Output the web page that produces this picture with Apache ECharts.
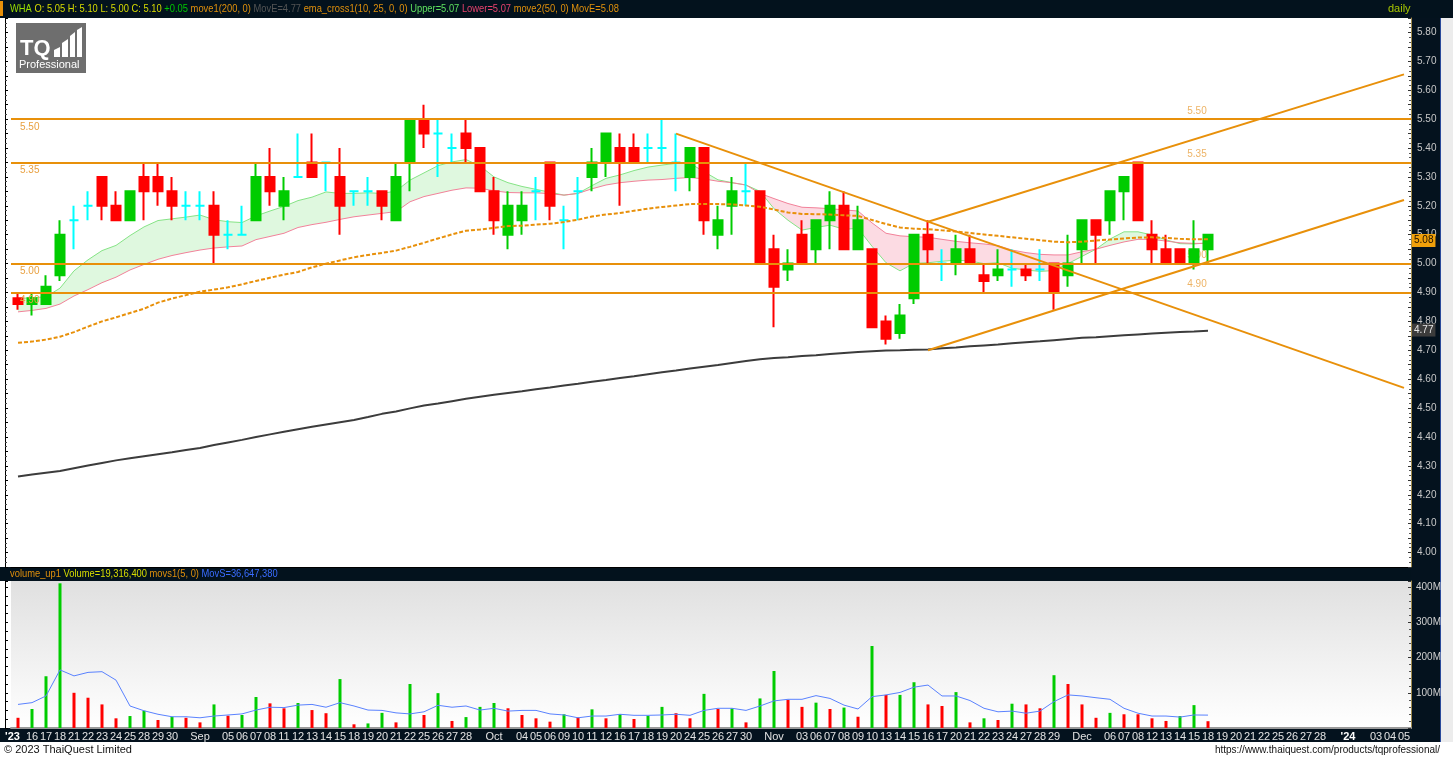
<!DOCTYPE html>
<html>
<head>
<meta charset="utf-8">
<title>WHA daily</title>
<script src="https://cdn.jsdelivr.net/npm/echarts@6/dist/echarts.min.js"></script>
<style>
  html, body { margin: 0; padding: 0; background: #fff; }
  #chart { width: 1453px; height: 758px; }
</style>
</head>
<body>
<div id="chart"></div>
<script>
// trading days (Aug 15 2023 .. Dec 18 2023) + blank future slots, as shown on the axis
const xLabels = ["'23","16","17","18","21","22","23","24","25","28","29","30","","Sep","","05","06","07","08","11","12","13","14","15","18","19","20","21","22","25","26","27","28","","Oct","","04","05","06","09","10","11","12","16","17","18","19","20","24","25","26","27","30","","Nov","","03","06","07","08","09","10","13","14","15","16","17","20","21","22","23","24","27","28","29","","Dec","","06","07","08","12","13","14","15","18","19","20","21","22","25","26","27","28","","'24","","03","04","05"]

const openP = [4.88,4.86,4.86,4.96,5.15,5.20,5.30,5.20,5.15,5.30, 5.30,5.25,5.20,5.20,5.20,5.10,5.10,5.15,5.30,5.20, 5.30,5.35,5.35,5.30,5.25,5.25,5.25,5.15,5.35,5.50, 5.45,5.40,5.45,5.40,5.25,5.10,5.15,5.25,5.35,5.15, 5.25,5.30,5.35,5.40,5.40,5.40,5.40,5.35,5.30,5.40, 5.10,5.20,5.25,5.25,5.05,4.98,5.10,5.05,5.15,5.20, 5.05,5.05,4.80,4.76,4.88,5.10,5.00,5.00,5.05,4.96, 4.96,4.98,4.98,4.98,5.00,4.96,5.05,5.15,5.15,5.25, 5.35,5.10,5.05,5.05,5.00,5.05]
const highP = [4.90,4.90,4.96,5.15,5.20,5.25,5.30,5.25,5.25,5.35, 5.35,5.30,5.25,5.25,5.25,5.15,5.20,5.35,5.40,5.30, 5.45,5.45,5.35,5.40,5.25,5.30,5.25,5.35,5.50,5.55, 5.50,5.45,5.50,5.40,5.30,5.25,5.25,5.30,5.35,5.20, 5.30,5.40,5.45,5.45,5.45,5.45,5.50,5.45,5.40,5.40, 5.20,5.30,5.35,5.25,5.10,5.05,5.15,5.15,5.25,5.25, 5.20,5.05,4.82,4.86,5.10,5.15,5.05,5.10,5.10,5.00, 5.05,5.05,5.00,5.05,5.00,5.10,5.15,5.15,5.25,5.30, 5.35,5.15,5.10,5.05,5.15,5.10]
const lowP = [4.84,4.82,4.86,4.94,5.05,5.15,5.15,5.15,5.15,5.15, 5.20,5.15,5.15,5.15,5.00,5.05,5.10,5.15,5.20,5.15, 5.30,5.30,5.25,5.10,5.20,5.20,5.15,5.15,5.25,5.40, 5.30,5.35,5.35,5.25,5.10,5.05,5.10,5.15,5.15,5.05, 5.15,5.25,5.30,5.20,5.35,5.35,5.35,5.25,5.25,5.10, 5.05,5.10,5.20,5.00,4.78,4.94,5.00,5.00,5.05,5.05, 5.05,4.78,4.72,4.74,4.86,5.00,4.94,4.96,5.00,4.90, 4.94,4.92,4.94,4.94,4.84,4.92,5.00,5.00,5.10,5.15, 5.15,5.00,5.00,5.00,4.98,5.00]
const closeP = [4.86,4.88,4.92,5.10,5.15,5.20,5.20,5.15,5.25,5.25, 5.25,5.20,5.20,5.20,5.10,5.10,5.10,5.30,5.25,5.25, 5.30,5.30,5.35,5.20,5.25,5.25,5.20,5.30,5.50,5.45, 5.45,5.40,5.40,5.25,5.15,5.20,5.20,5.25,5.20,5.15, 5.25,5.35,5.45,5.35,5.35,5.40,5.40,5.35,5.40,5.15, 5.15,5.25,5.25,5.00,4.92,5.00,5.00,5.15,5.20,5.05, 5.15,4.78,4.74,4.82,5.10,5.05,5.00,5.05,5.00,4.94, 4.98,4.98,4.96,4.98,4.90,5.00,5.15,5.10,5.25,5.30, 5.15,5.05,5.00,5.00,5.05,5.10]

// ema_cross1(10, 25): upper / lower averages
const ema10 = [4.879,4.882,4.885,4.915,4.975,5.013,5.045,5.063,5.097,5.127, 5.149,5.155,5.161,5.168,5.152,5.145,5.142,5.165,5.182,5.198, 5.218,5.230,5.248,5.243,5.243,5.245,5.243,5.251,5.289,5.314, 5.339,5.352,5.360,5.338,5.300,5.280,5.267,5.257,5.247,5.237, 5.243,5.270,5.295,5.307,5.322,5.334,5.341,5.347,5.347,5.318, 5.290,5.280,5.272,5.250,5.190,5.150,5.116,5.125,5.133,5.119, 5.122,5.060,5.003,4.975,5.001,5.003,5.008,5.012,5.009,5.000, 5.003,4.984,4.978,4.973,4.976,5.000,5.025,5.050,5.085,5.110, 5.110,5.099,5.082,5.069,5.068,5.072]
const ema25 = [4.833,4.838,4.845,4.860,4.888,4.910,4.934,4.953,4.978,4.997, 5.015,5.028,5.038,5.047,5.054,5.058,5.061,5.083,5.094,5.105, 5.125,5.135,5.143,5.153,5.162,5.168,5.174,5.180,5.214,5.232, 5.243,5.254,5.262,5.261,5.252,5.246,5.245,5.245,5.242,5.237, 5.243,5.259,5.272,5.280,5.285,5.289,5.291,5.295,5.298,5.293, 5.285,5.280,5.272,5.243,5.225,5.208,5.195,5.193,5.190,5.186, 5.182,5.141,5.105,5.096,5.093,5.091,5.084,5.077,5.072,5.068, 5.062,5.047,5.038,5.032,5.030,5.030,5.041,5.050,5.063,5.075, 5.084,5.084,5.078,5.072,5.070,5.070]
// move2(50) dashed, move1(200) dark
const ma50 = [4.726,4.730,4.737,4.747,4.763,4.782,4.800,4.814,4.829,4.844, 4.865,4.879,4.891,4.903,4.910,4.918,4.928,4.940,4.951,4.962, 4.971,4.987,5.000,5.011,5.022,5.030,5.037,5.045,5.058,5.072, 5.087,5.101,5.114,5.118,5.124,5.130,5.131,5.135,5.138,5.144, 5.152,5.163,5.170,5.175,5.183,5.190,5.196,5.201,5.206,5.206, 5.206,5.205,5.201,5.197,5.187,5.177,5.172,5.171,5.170,5.167, 5.165,5.151,5.137,5.125,5.121,5.119,5.115,5.111,5.106,5.101, 5.096,5.091,5.086,5.081,5.076,5.074,5.076,5.080,5.083,5.087, 5.090,5.091,5.089,5.086,5.084,5.084]
const ma200 = [4.263,4.270,4.276,4.282,4.292,4.301,4.310,4.319,4.326,4.333, 4.340,4.347,4.355,4.362,4.372,4.381,4.390,4.400,4.409,4.418, 4.427,4.435,4.443,4.451,4.459,4.469,4.480,4.488,4.499,4.509, 4.516,4.524,4.532,4.539,4.546,4.552,4.558,4.565,4.571,4.578, 4.584,4.591,4.597,4.604,4.610,4.617,4.624,4.630,4.637,4.643, 4.649,4.656,4.663,4.669,4.673,4.676,4.680,4.683,4.687,4.691, 4.694,4.697,4.699,4.700,4.702,4.703,4.707,4.710,4.714,4.717, 4.720,4.724,4.728,4.731,4.735,4.739,4.743,4.745,4.749,4.752, 4.755,4.758,4.761,4.763,4.765,4.768]

// volume in millions, 1 = green bar, 0 = red bar; movs1(5) line
const volume = [29,54,147,411,100,86,67,27.5,34,49, 22.7,32,29,16,67,35,37,88,70,56, 71,51,42,139,10.5,13,43,16,125,37, 99,20,31,60,71,56,37,27.5,18,39, 30,53,27.5,39,25.6,35,60,42,27.5,97, 54,56,16,84,162,80,60,72,54,58, 32,233,94,94,130,67,62.5,102,16,27.5, 22.7,69,67,56,150,125,67,29,43,39, 39,27.5,20,34,65,19.3]
const volUp = [0,1,1,1,0,0,0,0,1,1, 0,1,0,0,1,0,1,1,0,0, 1,0,0,1,0,1,1,0,1,0, 1,0,1,1,1,0,0,0,0,1, 0,1,0,1,0,1,1,0,0,1, 0,1,0,1,1,0,0,1,0,1, 0,1,0,1,1,0,0,1,0,1, 0,1,0,0,1,0,0,0,1,0, 0,0,0,1,1,0]
const movs = [67,72,91,165,148,158,160,136,62.5,49, 39,32,32,29,34,37,40,51,59,58, 65,67,59,72,62.5,51,50,43,40,46, 64.5,59,62.5,51,56,48,50,50,40,37, 29,34,34,39,36,36,37,39,36,50, 56,56,50,62.5,77,81.5,81.5,92,84,65, 54,89,94,101,116,122,91,91,78,56, 46,48,42,48,75,94,91,86,81.5,56, 42,34,34,31,37,36.6]

// drawn support / resistance levels and trend lines ([bar index, price])
const levels = [5.50, 5.35, 5.00, 4.90]
const trendDown = [[47, 5.45], [99, 4.57]]
const trendUpHigh = [[65, 5.145], [99, 5.655]]
const trendUpLow = [[65, 4.70], [99, 5.22]]

const priceTicks = { min: 3.95, max: 5.85, step: 0.05 }
const volTicks = { min: 0, max: 417.6, step: 100 }

const FONT = '"Liberation Sans", Arial, sans-serif'
const UP = '#00cc00', DOWN = '#ff0000', DOJI = '#00ffff', ORANGE = '#e8900a'

const last = closeP.length - 1
const change = closeP[last] - closeP[last - 1]

const candleData = openP.map((o, i) => {
  const item = { value: [o, closeP[i], lowP[i], highP[i]] }
  if (o === closeP[i]) {
    item.itemStyle = { color: DOJI, color0: DOJI, borderColor: DOJI, borderColor0: DOJI }
  }
  return item
})

const bandSegs = ema10.slice(0, -1).map((g, i) => [i, g, ema25[i], ema10[i + 1], ema25[i + 1]])

function renderBand (params, api) {
  const i = api.value(0)
  const g0 = api.value(1), p0 = api.value(2), g1 = api.value(3), p1 = api.value(4)
  const a = api.coord([i, g0]), b = api.coord([i + 1, g1])
  const c = api.coord([i + 1, p1]), d = api.coord([i, p0])
  const fill = up => ({ fill: up ? '#dff8df' : '#fcdbe3' })
  const d0 = g0 - p0, d1 = g1 - p1
  if (d0 * d1 >= 0) {
    return { type: 'polygon', shape: { points: [a, b, c, d] }, style: fill(d0 + d1 >= 0) }
  }
  const t = d0 / (d0 - d1)
  const m = [a[0] + (b[0] - a[0]) * t, a[1] + (b[1] - a[1]) * t]
  return {
    type: 'group',
    children: [
      { type: 'polygon', shape: { points: [a, m, d] }, style: fill(d0 > 0) },
      { type: 'polygon', shape: { points: [m, b, c] }, style: fill(d1 > 0) }
    ]
  }
}

const header = '{w|WHA} {y|O: ' + openP[last].toFixed(2) + ' H: ' + highP[last].toFixed(2) +
  ' L: ' + lowP[last].toFixed(2) + ' C: ' + closeP[last].toFixed(2) + '} {g|+' + change.toFixed(2) +
  '} {o|move1(200, 0)} {k|MovE=' + ma200[last].toFixed(2) + '} {o|ema_cross1(10, 25, 0, 0)} {u|Upper=' +
  ema10[last].toFixed(2) + '} {l|Lower=' + ema25[last].toFixed(2) + '} {o|move2(50, 0)} {o|MovE=' +
  ma50[last].toFixed(2) + '}'

// graphic text uses zrender style names (fill, font)
const rs = fill => ({ fill: fill, font: '11px ' + FONT })
const headerRich = {
  w: rs('#9adf00'),
  y: rs('#d8dc00'),
  g: rs('#00c800'),
  o: rs('#e0900c'),
  k: rs('#555555'),
  u: rs('#5ee05e'),
  l: rs('#e8426e'),
  b: rs('#3a6cff')
}

const chart = echarts.init(document.getElementById('chart'))

chart.setOption({
  animation: false,
  backgroundColor: '#ffffff',
  grid: [
    { left: 11, right: 42, top: 18, height: 549 },
    {
      left: 11, right: 42, top: 581, height: 147, show: true, borderWidth: 0,
      backgroundColor: new echarts.graphic.LinearGradient(0, 0, 0, 1, [
        { offset: 0, color: '#e0e0e0' },
        { offset: 1, color: '#ffffff' }
      ])
    }
  ],
  xAxis: [
    {
      type: 'category', gridIndex: 0, data: xLabels, boundaryGap: true,
      axisLine: { show: true, lineStyle: { color: '#000', width: 1 } },
      axisTick: { show: false }, axisLabel: { show: false }, splitLine: { show: false }
    },
    {
      type: 'category', gridIndex: 1, data: xLabels, boundaryGap: true,
      axisLine: { show: true, lineStyle: { color: '#9a9a9a', width: 2 } },
      axisTick: { show: false },
      axisLabel: {
        interval: 0, margin: 3, color: '#e2e2e2', fontSize: 11, fontFamily: FONT,
        formatter: (v, i) => v.charAt(0) === "'" ? (i === 0 ? '{yr0|' : '{yr|') + v + '}' : v,
        rich: {
          yr: { fontWeight: 'bold', color: '#ffffff', fontSize: 11, fontFamily: FONT },
          yr0: { fontWeight: 'bold', color: '#ffffff', fontSize: 11, fontFamily: FONT, padding: [0, 11, 0, 0] }
        }
      },
      splitLine: { show: false }
    }
  ],
  yAxis: [
    {
      type: 'value', gridIndex: 0, position: 'right',
      min: priceTicks.min, max: priceTicks.max, interval: priceTicks.step,
      axisLine: { show: true, lineStyle: { color: '#a08a4c' } },
      axisTick: { show: true, inside: true, length: 3, lineStyle: { color: '#333' } },
      minorTick: { show: true, splitNumber: 3, length: 2, lineStyle: { color: '#555' } },
      axisLabel: {
        margin: 6, color: '#c8c8c8', fontSize: 10, fontFamily: FONT,
        formatter: v => Math.round(v * 100) % 10 === 0 ? v.toFixed(2) : ''
      },
      splitLine: { show: false }
    },
    {
      type: 'value', gridIndex: 0, position: 'left', offset: 6,
      min: priceTicks.min, max: priceTicks.max, interval: priceTicks.step,
      axisLine: { show: true, lineStyle: { color: '#000' } },
      axisTick: { show: true, inside: true, length: 3, lineStyle: { color: '#000' } },
      minorTick: { show: true, splitNumber: 3, length: 2, lineStyle: { color: '#444' } },
      axisLabel: { show: false }, splitLine: { show: false }
    },
    {
      type: 'value', gridIndex: 1, position: 'right',
      min: volTicks.min, max: volTicks.max, interval: volTicks.step,
      axisLine: { show: true, lineStyle: { color: '#a08a4c' } },
      axisTick: { show: true, inside: true, length: 3, lineStyle: { color: '#333' } },
      minorTick: { show: true, splitNumber: 5, length: 2, lineStyle: { color: '#555' } },
      axisLabel: {
        margin: 5, color: '#d0d0d0', fontSize: 10, fontFamily: FONT,
        formatter: v => (v > 0 && Math.abs(v % 100) < 1e-6) ? v + 'M' : ''
      },
      splitLine: { show: false }
    },
    {
      type: 'value', gridIndex: 1, position: 'left', offset: 6,
      min: volTicks.min, max: volTicks.max, interval: 25,
      axisLine: { show: true, lineStyle: { color: '#000' } },
      axisTick: { show: true, inside: true, length: 3, lineStyle: { color: '#000' } },
      axisLabel: { show: false }, splitLine: { show: false }
    }
  ],
  series: [
    {
      name: 'band', type: 'custom', xAxisIndex: 0, yAxisIndex: 0, z: 1,
      renderItem: renderBand, data: bandSegs, encode: { x: 0, y: [1, 2, 3, 4] }, silent: true
    },
    {
      name: 'levels', type: 'scatter', xAxisIndex: 0, yAxisIndex: 0, z: 1, silent: true,
      symbolSize: 0,
      data: levels.map(v => [84, v]),
      label: {
        show: true, position: 'top', distance: 3, offset: [3, 0],
        color: '#e8a040', fontSize: 10, fontFamily: FONT,
        formatter: p => p.value[1].toFixed(2)
      },
      markLine: {
        silent: true, symbol: ['none', 'none'],
        lineStyle: { color: ORANGE, width: 2, type: 'solid' },
        label: {
          show: true, position: 'insideStartBottom', distance: [9, 3],
          color: '#e8a040', fontSize: 10, fontFamily: FONT,
          formatter: p => p.value.toFixed(2)
        },
        data: levels.map(v => ({ yAxis: v }))
      }
    },
    {
      name: 'EMA10', type: 'line', xAxisIndex: 0, yAxisIndex: 0, z: 2, data: ema10,
      showSymbol: false, lineStyle: { color: '#86e486', width: 1 }, silent: true
    },
    {
      name: 'EMA25', type: 'line', xAxisIndex: 0, yAxisIndex: 0, z: 2, data: ema25,
      showSymbol: false, lineStyle: { color: '#f2829a', width: 1 }, silent: true
    },
    {
      name: 'WHA', type: 'candlestick', xAxisIndex: 0, yAxisIndex: 0, z: 3,
      barWidth: 10, data: candleData,
      itemStyle: { color: UP, color0: DOWN, borderColor: UP, borderColor0: DOWN, borderWidth: 2 }
    },
    {
      name: 'move1', type: 'line', xAxisIndex: 0, yAxisIndex: 0, z: 4, data: ma200,
      showSymbol: false, lineStyle: { color: '#3c3c3c', width: 2 }, silent: true,
      markLine: {
        silent: true, symbol: ['none', 'none'], lineStyle: { color: 'rgba(0,0,0,0)', width: 1 },
        label: {
          show: true, position: 'end', distance: 1, formatter: ma200[last].toFixed(2),
          backgroundColor: '#3c3c3c', color: '#e8e8e8', fontSize: 10, fontFamily: FONT, padding: [2, 2, 1, 2]
        },
        data: [{ yAxis: ma200[last] }]
      }
    },
    {
      name: 'move2', type: 'line', xAxisIndex: 0, yAxisIndex: 0, z: 4, data: ma50,
      showSymbol: false, lineStyle: { color: ORANGE, width: 2, type: [4, 2] }, silent: true,
      markLine: {
        silent: true, symbol: ['none', 'none'], lineStyle: { color: 'rgba(0,0,0,0)', width: 1 },
        label: {
          show: true, position: 'end', distance: 1, formatter: ma50[last].toFixed(2),
          backgroundColor: '#f0a00a', color: '#1c1000', fontSize: 10, fontFamily: FONT, padding: [2, 2, 1, 2]
        },
        data: [{ yAxis: ma50[last] }]
      }
    },
    ...[trendDown, trendUpHigh, trendUpLow].map(t => ({
      type: 'line', xAxisIndex: 0, yAxisIndex: 0, z: 5, data: t, silent: true,
      showSymbol: false, lineStyle: { color: ORANGE, width: 2 }
    })),
    {
      name: 'Volume', type: 'bar', xAxisIndex: 1, yAxisIndex: 2, barWidth: 3, z: 2,
      data: volume.map((v, i) => ({ value: v, itemStyle: { color: volUp[i] ? UP : DOWN } }))
    },
    {
      name: 'MovS', type: 'line', xAxisIndex: 1, yAxisIndex: 2, z: 3, data: movs,
      showSymbol: false, lineStyle: { color: '#5a82ff', width: 1 }, silent: true
    }
  ],
  graphic: [
    // frame pieces
    { type: 'rect', z: -1, shape: { x: 0, y: 0, width: 1453, height: 18 }, style: { fill: '#03121d' } },
    { type: 'rect', z: -1, shape: { x: 1411, y: 18, width: 30, height: 724 }, style: { fill: '#04121e' } },
    { type: 'rect', z: -1, shape: { x: 1441, y: 18, width: 12, height: 724 }, style: { fill: '#ececec' } },
    { type: 'rect', z: -1, shape: { x: 1440, y: 18, width: 1, height: 724 }, style: { fill: '#2a4a9a' } },
    { type: 'rect', z: -1, shape: { x: 0, y: 567, width: 1411, height: 14 }, style: { fill: '#03121d' } },
    { type: 'rect', z: -1, shape: { x: 0, y: 728, width: 1411, height: 14 }, style: { fill: '#04121e' } },
    { type: 'rect', z: 10, shape: { x: 0, y: 1, width: 3, height: 15 }, style: { fill: ORANGE } },
    {
      type: 'text', z: 10, x: 10, y: 9, scaleX: 0.85,
      style: { text: header, rich: headerRich, verticalAlign: 'middle', font: '11px ' + FONT, fill: '#d8dc00' }
    },
    {
      type: 'text', z: 10, x: 1388, y: 9,
      style: { text: 'daily', fill: '#a6c400', font: '11px ' + FONT, verticalAlign: 'middle' }
    },
    {
      type: 'text', z: 10, x: 10, y: 574, scaleX: 0.85,
      style: {
        text: '{o|volume_up1} {y|Volume=19,316,400} {o|movs1(5, 0)} {b|MovS=36,647,380}',
        rich: headerRich, verticalAlign: 'middle', font: '11px ' + FONT, fill: '#e0900c'
      }
    },
    // logo
    {
      type: 'group', x: 16, y: 23, z: 10,
      children: [
        { type: 'rect', shape: { x: 0, y: 0, width: 70, height: 50 }, style: { fill: '#6e6e6e' } },
        { type: 'text', x: 4, y: 26, style: { text: 'TQ', fill: '#fff', font: 'bold 22px ' + FONT, verticalAlign: 'middle' } },
        { type: 'polygon', shape: { points: [[38, 27], [44, 24], [44, 34], [38, 34]] }, style: { fill: '#fff' } },
        { type: 'polygon', shape: { points: [[46, 20], [52, 16], [52, 34], [46, 34]] }, style: { fill: '#fff' } },
        { type: 'polygon', shape: { points: [[54, 13], [59, 9], [59, 34], [54, 34]] }, style: { fill: '#fff' } },
        { type: 'polygon', shape: { points: [[61, 7], [66, 4], [66, 34], [61, 34]] }, style: { fill: '#fff' } },
        { type: 'text', x: 3, y: 42, style: { text: 'Professional', fill: '#fff', font: '11px ' + FONT, verticalAlign: 'middle' } }
      ]
    },
    // footer
    {
      type: 'text', x: 4, y: 750,
      style: { text: '\u00a9 2023 ThaiQuest Limited', fill: '#111', font: '11px ' + FONT, verticalAlign: 'middle' }
    },
    {
      type: 'text', x: 1440, y: 750,
      style: { text: 'https://www.thaiquest.com/products/tqprofessional/', fill: '#111', font: '10px ' + FONT, verticalAlign: 'middle', align: 'right' }
    }
  ]
})
</script>
</body>
</html>
